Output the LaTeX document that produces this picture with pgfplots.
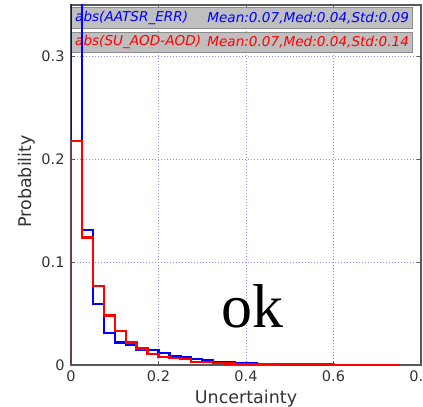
\documentclass[border=0pt]{standalone}
\usepackage{fontspec}
\setmainfont{DejaVu Sans}
\newfontfamily\okfont{Liberation Serif}
\usepackage{pgfplots}
\pgfplotsset{compat=1.18}
\begin{document}
\begin{tikzpicture}
\begin{axis}[name=ax, scale only axis, width=350bp, height=360bp,
  xmin=0, xmax=0.8, ymin=0, ymax=0.35,
  xtick={0,0.2,0.4,0.6,0.8}, ytick={0,0.1,0.2,0.3},
  grid=major,
  major grid style={blue!45, line width=0.9bp, dash pattern=on 1bp off 2bp},
  axis line style={black!65, line width=1.2bp},
  tick align=inside, major tick length=4bp,
  tick style={black!65, line width=0.8bp},
  ticklabel style={font=\fontsize{14.5bp}{16bp}\selectfont, text=black!80},
  xticklabel style={yshift=-2bp},
  yticklabel style={xshift=-3bp},
  /pgf/number format/assume math mode=true,
  /pgf/number format/fixed,
  xlabel={Uncertainty}, ylabel={Probability},
  label style={font=\fontsize{17.5bp}{19bp}\selectfont, text=black!80},
  xlabel style={at={(axis description cs:0.5,-0.108)}, anchor=base},
  ylabel style={at={(axis description cs:-0.114,0.51)}, anchor=base, rotate=0},
]
\draw[fill=black!25, draw=black!45, line width=0.8bp] (rel axis cs:0.002,0.935) rectangle (rel axis cs:0.976,0.9936);
\draw[fill=black!25, draw=black!45, line width=0.8bp] (rel axis cs:0.002,0.869) rectangle (rel axis cs:0.976,0.924);
\node[anchor=west, inner sep=0pt, text=blue, font=\fontsize{13.6bp}{15bp}\selectfont\itshape] at (rel axis cs:0.0114,0.9644) {abs(AATSR\_ERR)};
\node[anchor=west, inner sep=0pt, text=blue, font=\fontsize{13.6bp}{15bp}\selectfont\itshape] at (rel axis cs:0.389,0.9644) {Mean:0.07,Med:0.04,Std:0.09};
\node[anchor=west, inner sep=0pt, text=red, font=\fontsize{13.6bp}{15bp}\selectfont\itshape] at (rel axis cs:0.0114,0.8964) {abs(SU\_AOD-AOD)};
\node[anchor=west, inner sep=0pt, text=red, font=\fontsize{13.6bp}{15bp}\selectfont\itshape] at (rel axis cs:0.389,0.8964) {Mean:0.07,Med:0.04,Std:0.14};
\addplot[const plot mark left, blue, line width=2.3bp] coordinates {
 (0,0) (0,0.60) (0.025,0.131) (0.05,0.059) (0.075,0.031) (0.1,0.022)
 (0.125,0.020) (0.15,0.015) (0.175,0.0145) (0.2,0.012) (0.225,0.0088)
 (0.25,0.0074) (0.275,0.0055) (0.3,0.0045) (0.325,0.003) (0.35,0.003)
 (0.375,0.0022) (0.4,0.002) (0.425,0.0012) (0.45,0.001) (0.475,0)
};
\addplot[const plot mark left, red, line width=2.3bp] coordinates {
 (0,0) (0,0.218) (0.025,0.124) (0.05,0.0765) (0.075,0.048) (0.1,0.033)
 (0.125,0.022) (0.15,0.016) (0.175,0.0106) (0.2,0.008) (0.225,0.0065)
 (0.25,0.0055) (0.275,0.003) (0.3,0.003) (0.325,0.0018) (0.35,0.0016)
 (0.375,0.0012) (0.4,0.0012) (0.425,0.001) (0.45,0.0008) (0.475,0.0006)
 (0.5,0.0005) (0.525,0.0005) (0.55,0.0004) (0.575,0.0004) (0.6,0.0003)
 (0.625,0.0003) (0.65,0.0003) (0.675,0.0002) (0.7,0.0002) (0.725,0.0002) (0.75,0)
};
\node[anchor=base, inner sep=0pt, font=\okfont\fontsize{62bp}{62bp}\selectfont] at (axis cs:0.414,0.036) {ok};
\end{axis}
\pgfresetboundingbox
\path[use as bounding box] (ax.south west) ++(-71bp,-42bp) rectangle ++(423bp,407bp);
\end{tikzpicture}
\end{document}
